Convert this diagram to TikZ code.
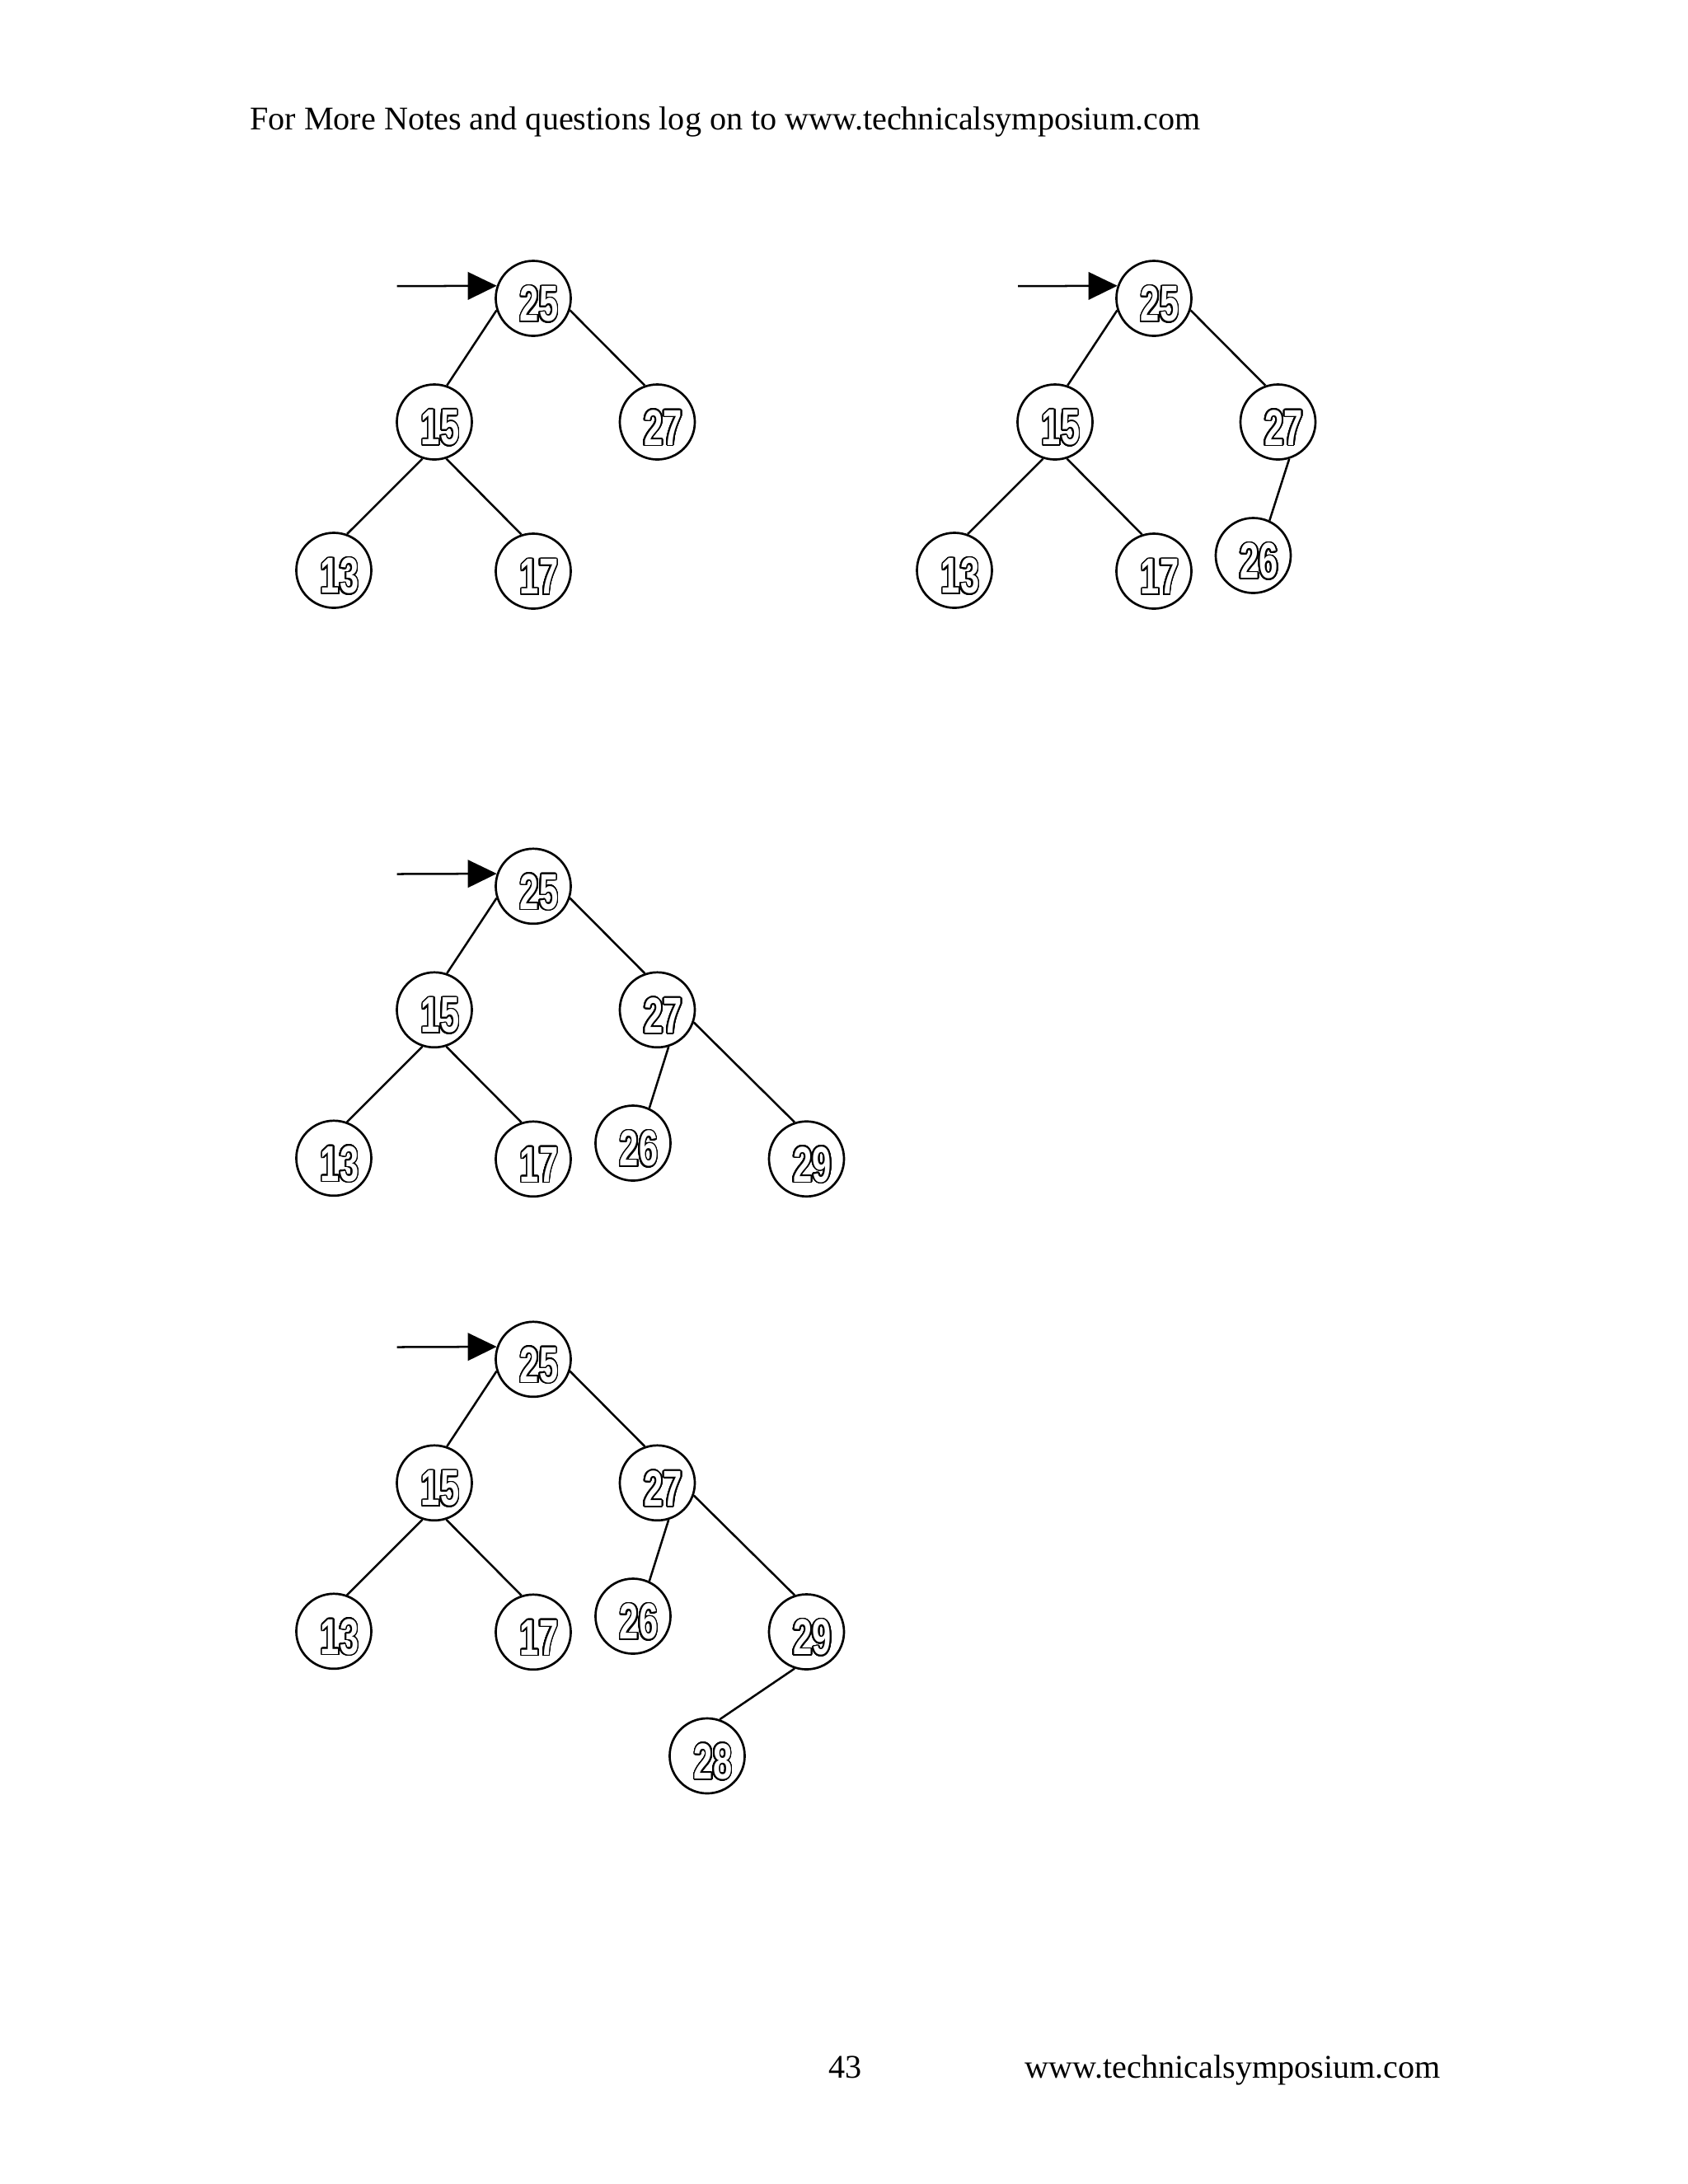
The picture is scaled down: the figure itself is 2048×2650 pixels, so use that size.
\documentclass[tikz,border=0pt]{standalone}
\usepackage{fontspec}
\setmainfont{Liberation Serif}
\newfontfamily\numfont[FakeStretch=0.68]{Liberation Sans Bold}
\usepackage[copies]{contour}
\contournumber{32}
\contourlength{0.5pt}
\usetikzlibrary{arrows.meta}
\newcommand{\outl}[1]{\contour{black}{\textcolor{white}{#1}}}
\tikzset{
  vtx/.style={circle, draw, line width=0.8pt, minimum size=27.2pt, inner sep=0pt},
  lbl/.style={inner sep=0pt, xshift=2.1pt, yshift=-2.3pt, font=\numfont\fontsize{18.3}{18.3}\selectfont},
  edge/.style={line width=0.75pt},
  ptr/.style={line width=0.75pt, -{Triangle[length=10.5pt,width=10pt]}},
  txt/.style={inner sep=0pt, anchor=base west, font=\fontsize{12}{14}\selectfont}
}
\newcommand{\vx}[3]{\node[vtx, label={[lbl]center:\outl{#3}}] (#1) at (#2) {};}
\begin{document}
\begin{tikzpicture}[x=0.2988pt, y=-0.2988pt]
\useasboundingbox (0,0) rectangle (2048,2650);
\node[txt] (hdr) at (302.7,157.3) {For More Notes and questions log on to www.technicalsymposium.com};
\node[txt] (pg) at (1005,2521.7) {43};
\node[txt] (ftr) at (1243.3,2521.7) {www.technicalsymposium.com};

% Tree 1
\vx{Ar}{647,362}{25}
\vx{Aa}{527,512}{15}
\vx{Ab}{797.5,512}{27}
\vx{Ac}{405,692}{13}
\vx{Ad}{647,693}{17}
\coordinate (As) at (481.7,347.2);
\draw[ptr] (As) -- (Ar.161);
\draw[edge] (Ar.198) -- (Aa.71);
\draw[edge] (Ar.342) -- (Ab.109);
\draw[edge] (Aa.252) -- (Ac.70);
\draw[edge] (Aa.288) -- (Ad.108);

% Tree 2
\vx{Br}{1400,362}{25}
\vx{Ba}{1280,512}{15}
\vx{Bb}{1550.5,512}{27}
\vx{Bc}{1158,692}{13}
\vx{Bd}{1400,693}{17}
\vx{Be}{1520.5,674}{26}
\coordinate (Bs) at (1235,347.2);
\draw[ptr] (Bs) -- (Br.161);
\draw[edge] (Br.198) -- (Ba.71);
\draw[edge] (Br.342) -- (Bb.109);
\draw[edge] (Ba.252) -- (Bc.70);
\draw[edge] (Ba.288) -- (Bd.108);
\draw[edge] (Bb.287) -- (Be.65);

% Tree 3
\vx{Cr}{647,1075.3}{25}
\vx{Ca}{527,1225.3}{15}
\vx{Cb}{797.5,1225.3}{27}
\vx{Cc}{405,1405.3}{13}
\vx{Cd}{647,1406.3}{17}
\vx{Ce}{768,1387}{26}
\vx{Cf}{978.5,1406.2}{29}
\coordinate (Cs) at (481.7,1060.5);
\draw[ptr] (Cs) -- (Cr.161);
\draw[edge] (Cr.198) -- (Ca.71);
\draw[edge] (Cr.342) -- (Cb.109);
\draw[edge] (Ca.252) -- (Cc.70);
\draw[edge] (Ca.288) -- (Cd.108);
\draw[edge] (Cb.287) -- (Ce.65);
\draw[edge] (Cb.341) -- (Cf.108);

% Tree 4
\vx{Dr}{647,1649.3}{25}
\vx{Da}{527,1799.3}{15}
\vx{Db}{797.5,1799.3}{27}
\vx{Dc}{405,1979.3}{13}
\vx{Dd}{647,1980.3}{17}
\vx{De}{768,1961}{26}
\vx{Df}{978.5,1980}{29}
\vx{Dg}{858,2130.5}{28}
\coordinate (Ds) at (481.7,1634.5);
\draw[ptr] (Ds) -- (Dr.161);
\draw[edge] (Dr.198) -- (Da.71);
\draw[edge] (Dr.342) -- (Db.109);
\draw[edge] (Da.252) -- (Dc.70);
\draw[edge] (Da.288) -- (Dd.108);
\draw[edge] (Db.287) -- (De.65);
\draw[edge] (Db.341) -- (Df.108);
\draw[edge] (Df.252) -- (Dg.71);
\end{tikzpicture}
\end{document}
